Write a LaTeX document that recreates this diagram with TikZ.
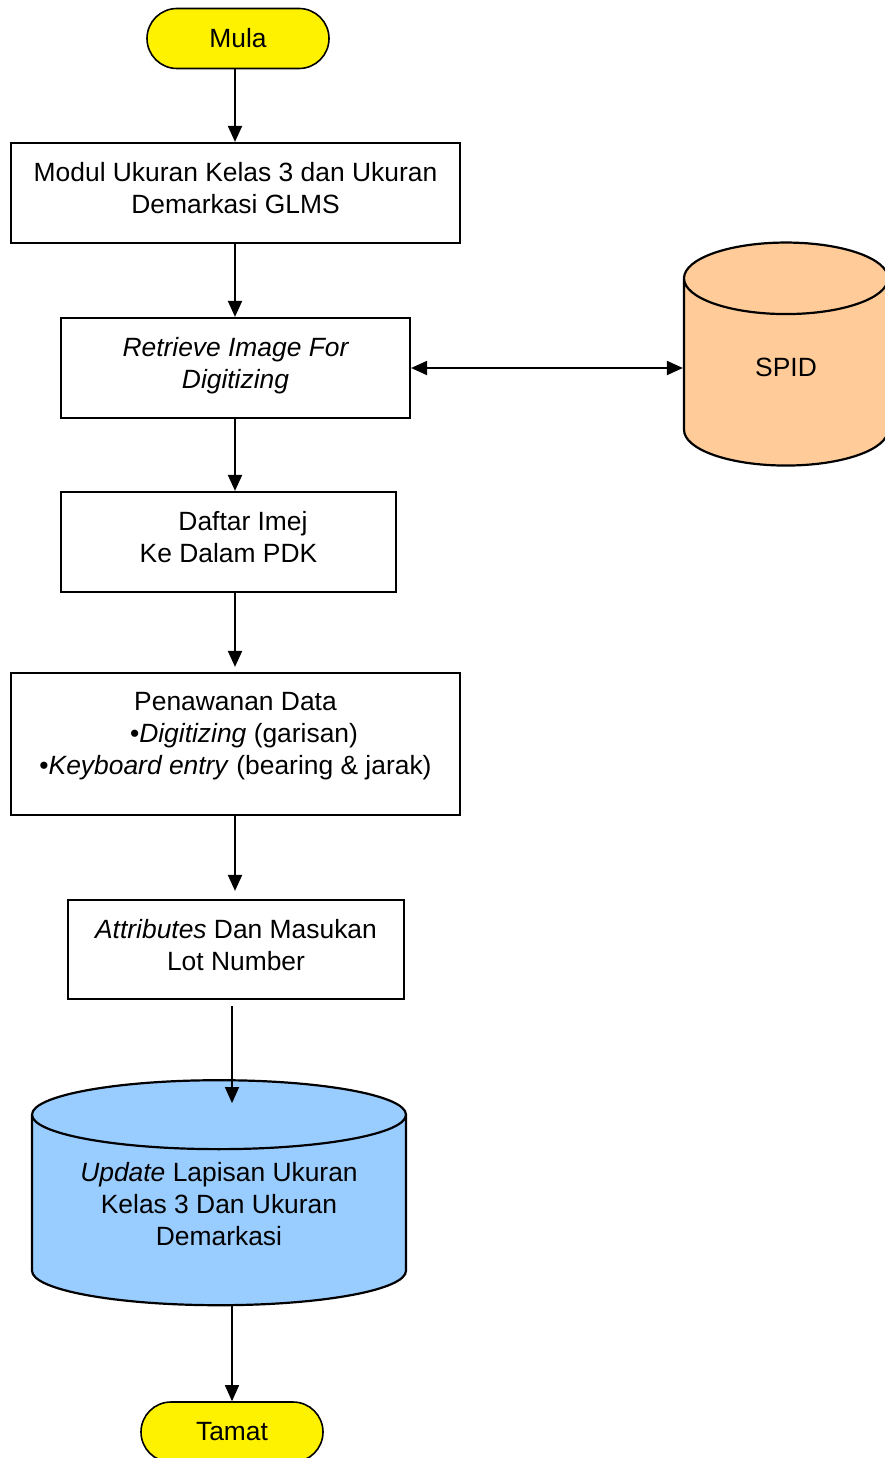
\documentclass[tikz,border=0pt]{standalone}
\usepackage{fontspec}
\setmainfont{Liberation Sans}
\usetikzlibrary{shapes.geometric,arrows.meta}

\begin{document}
\begin{tikzpicture}
[x=1pt,y=-1pt,%
  every node/.style={font=\fontsize{26.4}{32}\selectfont,align=center,inner sep=2pt},%
  terminal/.style={shape=rectangle,draw,line width=1.6pt,fill=yellow,rounded corners=30pt,minimum width=182pt,minimum height=60pt},%
  process/.style={shape=rectangle,draw,line width=2.2pt,text depth=10pt},%
  store/.style={shape=cylinder,shape border rotate=90,draw,line width=2.2pt,text depth=18pt},%
  flow/.style={-{Triangle[length=16pt,width=14pt]},line width=2pt},%
  thinflow/.style={flow,line width=1.5pt}]
\useasboundingbox (0,0) rectangle (885,1458);
\coordinate (spine) at (235,0);
\coordinate (spine2) at (232,0);
\node[terminal] (mula) at (238,38.5) {Mula};
\node[process,minimum width=449pt,minimum height=100pt] (modul) at (235.5,193)
  {Modul Ukuran Kelas 3 dan Ukuran\\Demarkasi GLMS};
\node[process,minimum width=349pt,minimum height=100pt] (retrieve) at (235.5,368)
  {\itshape Retrieve Image For\\\itshape Digitizing};
\node[store,aspect=1.09,fill={rgb,255:red,255;green,204;blue,153},minimum width=204pt,minimum height=223pt] (spid) at (786,376) {SPID};
\node[process,minimum width=335pt,minimum height=100pt] (daftar) at (228.5,542)
  {\hspace*{29pt}Daftar Imej\\Ke Dalam PDK};
\node[process,minimum width=449pt,minimum height=142pt,text depth=22pt] (tawan) at (235.5,744)
  {Penawanan Data\\\hspace*{17pt}\textbullet\textit{Digitizing} (garisan)\\\textbullet\textit{Keyboard entry} (bearing \& jarak)};
\node[process,minimum width=336pt,minimum height=99pt] (atribut) at (236,949.5)
  {\textit{Attributes} Dan Masukan\\Lot Number};
\node[store,aspect=0.245,fill={rgb,255:red,153;green,204;blue,255},minimum width=374pt,minimum height=225pt] (update) at (219,1213)
  {\textit{Update} Lapisan Ukuran\\Kelas 3 Dan Ukuran\\Demarkasi};
\node[terminal] (tamat) at (232,1432) {Tamat};

\draw[flow] (mula.south -| spine) -- (modul.north -| spine);
\draw[flow] (modul.south -| spine) -- (retrieve.north -| spine);
\draw[flow] (retrieve.south -| spine) -- (daftar.north -| spine);
\draw[flow,shorten >=5pt] (daftar.south -| spine) -- (tawan.north -| spine);
\draw[flow,shorten >=8pt] (tawan.south -| spine) -- (atribut.north -| spine);
\draw[thinflow,shorten <=6pt,shorten >=-24pt] (atribut.south -| spine2) -- (update.north -| spine2);
\draw[thinflow] (update.south -| spine2) -- (tamat.north -| spine2);
\draw[{Triangle[length=16pt,width=14pt]}-{Triangle[length=16pt,width=14pt]},line width=2pt]
  (retrieve.east) -- (retrieve.east -| spid.west);
\end{tikzpicture}
\end{document}
